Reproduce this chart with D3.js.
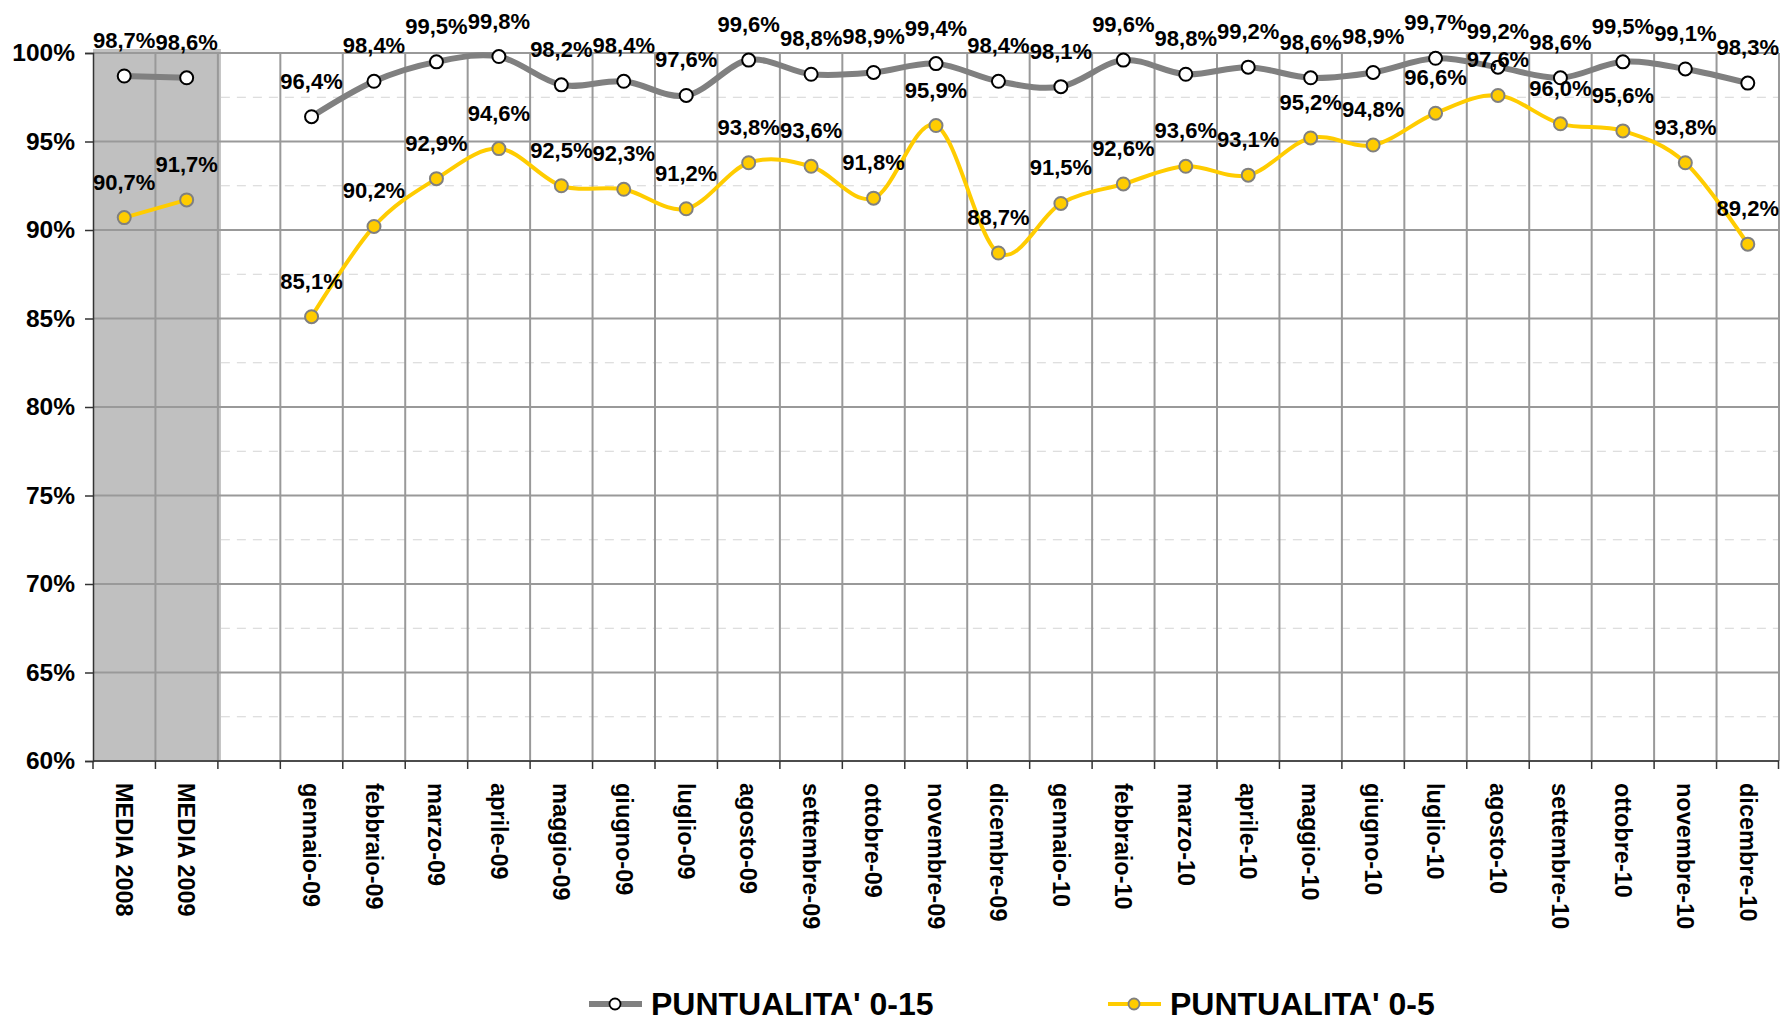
<!DOCTYPE html>
<meta charset="utf-8">
<style>
    body {
        margin: 0;
        background: #fff;
    }

    svg {
        font-family: "Liberation Sans", Arial, sans-serif;
        font-weight: bold;
    }
</style>
<body>
<script src="https://cdn.jsdelivr.net/npm/d3@7"></script>
<script>
    // categories on the x axis (the empty one is the gap after the yearly averages)
    const categories = ["MEDIA 2008", "MEDIA 2009", "",
        "gennaio-09", "febbraio-09", "marzo-09", "aprile-09", "maggio-09", "giugno-09",
        "luglio-09", "agosto-09", "settembre-09", "ottobre-09", "novembre-09", "dicembre-09",
        "gennaio-10", "febbraio-10", "marzo-10", "aprile-10", "maggio-10", "giugno-10",
        "luglio-10", "agosto-10", "settembre-10", "ottobre-10", "novembre-10", "dicembre-10"];

    // PUNTUALITA' 0-15
    const punt15 = [98.7, 98.6, null,
        96.4, 98.4, 99.5, 99.8, 98.2, 98.4, 97.6, 99.6, 98.8, 98.9, 99.4, 98.4,
        98.1, 99.6, 98.8, 99.2, 98.6, 98.9, 99.7, 99.2, 98.6, 99.5, 99.1, 98.3];

    // PUNTUALITA' 0-5
    const punt5 = [90.7, 91.7, null,
        85.1, 90.2, 92.9, 94.6, 92.5, 92.3, 91.2, 93.8, 93.6, 91.8, 95.9, 88.7,
        91.5, 92.6, 93.6, 93.1, 95.2, 94.8, 96.6, 97.6, 96.0, 95.6, 93.8, 89.2];

    const yTicks = [60, 65, 70, 75, 80, 85, 90, 95, 100];
    const yMinor = [62.5, 67.5, 72.5, 77.5, 82.5, 87.5, 92.5, 97.5];
    const averageCats = ["MEDIA 2008", "MEDIA 2009"];

    const width = 1780;
    const height = 1023;
    const margin = {top: 53, right: 1, bottom: 262, left: 93};

    const svg = d3.select('body')
        .append('svg')
        .attr('width', width)
        .attr('height', height);

    const x = d3.scaleBand()
        .domain(categories)
        .range([margin.left, width - margin.right]);

    const y = d3.scaleLinear()
        .domain([60, 100])
        .range([height - margin.bottom, margin.top]);

    const bw = x.bandwidth();

    // grey background behind the yearly averages
    svg.append('rect')
        .attr('x', x(averageCats[0]))
        .attr('y', y(100) - 4)
        .attr('width', x(averageCats[1]) + bw + 3 - x(averageCats[0]))
        .attr('height', y(60) - y(100) + 4)
        .style('fill', '#c0c0c0');

    // dashed minor gridlines (only on the monthly part)
    svg.append('g')
        .selectAll('line')
        .data(yMinor)
        .enter().append('line')
        .attr('x1', x(averageCats[1]) + bw + 3)
        .attr('x2', width - margin.right)
        .attr('y1', d => y(d))
        .attr('y2', d => y(d))
        .style('stroke', '#d4d4d4')
        .style('stroke-width', 1)
        .style('stroke-dasharray', '9,7');

    // major horizontal gridlines
    svg.append('g')
        .selectAll('line')
        .data(yTicks)
        .enter().append('line')
        .attr('x1', margin.left)
        .attr('x2', width - margin.right)
        .attr('y1', d => y(d))
        .attr('y2', d => y(d))
        .style('stroke', '#999')
        .style('stroke-width', 2);

    // vertical gridlines at every band boundary
    svg.append('g')
        .selectAll('line')
        .data(categories.slice(1))
        .enter().append('line')
        .attr('x1', d => x(d))
        .attr('x2', d => x(d))
        .attr('y1', y(100))
        .attr('y2', y(60))
        .style('stroke', '#999')
        .style('stroke-width', 2);
    svg.append('line')
        .attr('x1', width - margin.right).attr('x2', width - margin.right)
        .attr('y1', y(100)).attr('y2', y(60))
        .style('stroke', '#999').style('stroke-width', 2);

    // y axis
    const yAxis = d3.axisLeft(y)
        .tickValues(yTicks)
        .tickSize(8)
        .tickPadding(10)
        .tickFormat(d => d + '%');

    const gy = svg.append('g')
        .attr('transform', `translate(${margin.left},0)`)
        .call(yAxis);
    gy.select('.domain').style('stroke', '#333').style('stroke-width', 1.5);
    gy.selectAll('.tick line').style('stroke', '#333').style('stroke-width', 1.5);
    gy.selectAll('.tick text')
        .style('font-size', '24.5px')
        .style('font-family', '"Liberation Sans", Arial, sans-serif')
        .style('font-weight', 'bold')
        .style('fill', '#000');

    // x axis: baseline + ticks at band boundaries
    const gx = svg.append('g');
    gx.append('line')
        .attr('x1', margin.left).attr('x2', width - margin.right)
        .attr('y1', y(60)).attr('y2', y(60))
        .style('stroke', '#333').style('stroke-width', 1.5);
    gx.selectAll('.xtick')
        .data(categories.concat(['__end']))
        .enter().append('line')
        .attr('class', 'xtick')
        .attr('x1', d => d === '__end' ? width - margin.right - 0.5 : x(d))
        .attr('x2', d => d === '__end' ? width - margin.right - 0.5 : x(d))
        .attr('y1', y(60))
        .attr('y2', y(60) + 8)
        .style('stroke', '#333').style('stroke-width', 1.5);
    gx.selectAll('text')
        .data(categories.filter(d => d !== ''))
        .enter().append('text')
        .attr('transform', d => `translate(${x(d) + bw / 2},${y(60) + 22}) rotate(90)`)
        .attr('dy', '0.35em')
        .style('font-size', '23.5px')
        .style('text-anchor', 'start')
        .text(d => d);

    // series
    const series = [
        {name: "PUNTUALITA' 0-15", values: punt15, line: '#808080', lw: 6, fill: '#fff', stroke: '#000'},
        {name: "PUNTUALITA' 0-5", values: punt5, line: '#ffcc00', lw: 4, fill: '#ffcc00', stroke: '#808080'}
    ];

    const line = d3.line()
        .defined(d => d.v != null)
        .x(d => x(d.c) + bw / 2)
        .y(d => y(d.v))
        .curve(d3.curveCardinal.tension(0));

    series.forEach(s => {
        const pts = categories.map((c, i) => ({c: c, v: s.values[i]}));
        svg.append('path')
            .datum(pts)
            .attr('d', line)
            .style('fill', 'none')
            .style('stroke', s.line)
            .style('stroke-width', s.lw)
            .style('stroke-linejoin', 'round');
        svg.append('g')
            .selectAll('circle')
            .data(pts.filter(d => d.v != null))
            .enter().append('circle')
            .attr('cx', d => x(d.c) + bw / 2)
            .attr('cy', d => y(d.v))
            .attr('r', 6.5)
            .style('fill', s.fill)
            .style('stroke', s.stroke)
            .style('stroke-width', 2);
        s.pts = pts;
    });

    // data labels drawn on top of everything
    series.forEach(s => {
        svg.append('g')
            .selectAll('text')
            .data(s.pts.filter(d => d.v != null))
            .enter().append('text')
            .attr('x', d => x(d.c) + bw / 2)
            .attr('y', d => y(d.v) - 28)
            .style('text-anchor', 'middle')
            .style('font-size', '22px')
            .text(d => d.v.toFixed(1).replace('.', ',') + '%');
    });

    // legend
    const legendPos = [589, 1108];
    const legend = svg.selectAll('.legend')
        .data(series)
        .enter().append('g')
        .attr('class', 'legend')
        .attr('transform', (d, i) => `translate(${legendPos[i]},1004)`);
    legend.append('line')
        .attr('x1', 0).attr('x2', 53)
        .attr('y1', 0).attr('y2', 0)
        .style('stroke', d => d.line)
        .style('stroke-width', d => d.lw);
    legend.append('circle')
        .attr('cx', 26).attr('cy', 0).attr('r', 5.5)
        .style('fill', d => d.fill)
        .style('stroke', d => d.stroke)
        .style('stroke-width', 1.8);
    legend.append('text')
        .attr('x', 62)
        .attr('y', 11)
        .style('font-size', '32px')
        .text(d => d.name);
</script>
</body>
</html>
